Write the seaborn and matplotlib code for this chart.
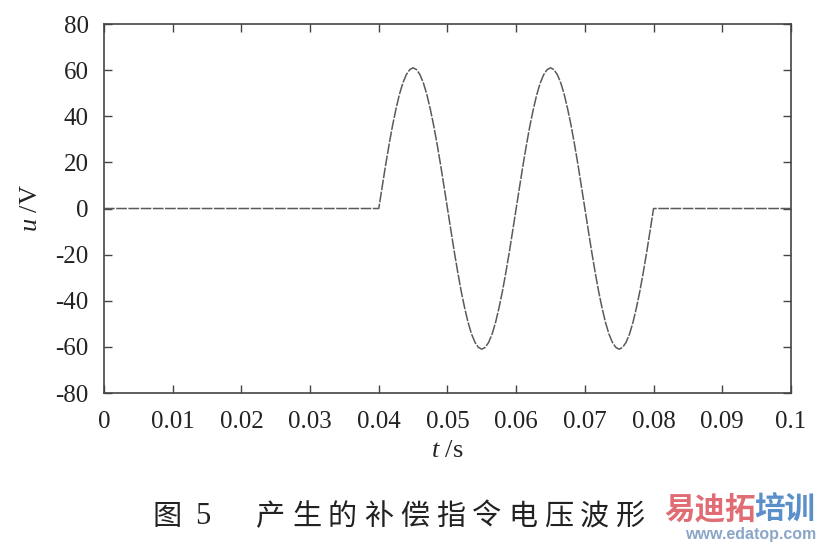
import numpy as np
import pandas as pd
import seaborn as sns
import matplotlib.pyplot as plt

t_flat_start = [0.0]
u_flat_start = [0.0]
t_wave_start = 0.04
t_wave_step = 0.0005
u_wave = [
    0.0, 9.5, 18.9, 27.7, 35.9, 43.1, 49.4, 54.4, 58.0, 60.2,
    61.0, 60.2, 58.0, 54.4, 49.4, 43.1, 35.9, 27.7, 18.9, 9.5,
    0.0, -9.5, -18.9, -27.7, -35.9, -43.1, -49.4, -54.4, -58.0, -60.2,
    -61.0, -60.2, -58.0, -54.4, -49.4, -43.1, -35.9, -27.7, -18.9, -9.5,
    0.0, 9.5, 18.9, 27.7, 35.9, 43.1, 49.4, 54.4, 58.0, 60.2,
    61.0, 60.2, 58.0, 54.4, 49.4, 43.1, 35.9, 27.7, 18.9, 9.5,
    0.0, -9.5, -18.9, -27.7, -35.9, -43.1, -49.4, -54.4, -58.0, -60.2,
    -61.0, -60.2, -58.0, -54.4, -49.4, -43.1, -35.9, -27.7, -18.9, -9.5,
    0.0,
]
t_flat_end = [0.1]
u_flat_end = [0.0]

x_ticks = [0, 0.01, 0.02, 0.03, 0.04, 0.05, 0.06, 0.07, 0.08, 0.09, 0.1]
x_ticklabels = ['0', '0.01', '0.02', '0.03', '0.04', '0.05', '0.06', '0.07', '0.08', '0.09', '0.1']
y_ticks = [80, 60, 40, 20, 0, -20, -40, -60, -80]
y_ticklabels = ['80', '60', '40', '20', '0', '-20', '-40', '-60', '-80']

t_wave = [t_wave_start + i * t_wave_step for i in range(len(u_wave))]
df = pd.DataFrame({
    't': t_flat_start + t_wave + t_flat_end,
    'u': u_flat_start + u_wave + u_flat_end,
})

sns.set_style('ticks')
plt.rcParams['font.family'] = ['Liberation Serif', 'DejaVu Serif']
plt.rcParams['mathtext.fontset'] = 'custom'
plt.rcParams['mathtext.it'] = 'Liberation Serif:italic'
plt.rcParams['mathtext.rm'] = 'Liberation Serif'

fig = plt.figure(figsize=(8.2, 5.43), dpi=100)
ax = fig.add_axes([0.1268, 0.2762, 0.8378, 0.6796])

sns.lineplot(data=df, x='t', y='u', ax=ax, color='#5a5a5a', linewidth=1.1,
             dashes=False, sort=False)
ax.lines[0].set_dashes([7, 1.0])

ax.set_xlim(0, 0.1)
ax.set_ylim(-80, 80)
ax.set_xticks(x_ticks)
ax.set_xticklabels(x_ticklabels)
ax.set_yticks(y_ticks)
ax.set_yticklabels(y_ticklabels)
ax.tick_params(direction='in', length=6, width=1, color='#444444',
               top=True, right=True, labelsize=18, labelcolor='#222222')
ax.tick_params(axis='x', pad=13)
ax.tick_params(axis='y', pad=11)
for s in ax.spines.values():
    s.set_visible(True)
    s.set_color('#444444')
    s.set_linewidth(1.2)

ax.set_xlabel(r'$t$ /s', fontsize=19, color='#222222', labelpad=5)
ax.set_ylabel(r'$u$ /V', fontsize=19, color='#222222', labelpad=10)

# caption
cap_font = ['Noto Sans CJK SC', 'DejaVu Sans']
fig.text(153 / 820, 1 - 517 / 543, '图', fontsize=21, family=cap_font,
         va='center', ha='left', color='#222222')
fig.text(195 / 820, 1 - 517 / 543, '5', fontsize=22, family=['Liberation Serif'],
         va='center', ha='left', color='#222222')
for i, ch in enumerate('产生的补偿指令电压波形'):
    fig.text((256 + 36 * i) / 820, 1 - 517 / 543, ch, fontsize=21,
             family=cap_font, va='center', ha='left', color='#222222')

# watermark
fig.text(664 / 820, 1 - 510 / 543, '易迪拓', fontsize=22, family=cap_font,
         fontweight='bold', color='#e06c74', va='center', ha='left')
fig.text(754 / 820, 1 - 510 / 543, '培训', fontsize=22, family=cap_font,
         fontweight='bold', color='#5b8fc9', va='center', ha='left')
fig.text(816 / 820, 1 - 534 / 543, 'www.edatop.com', fontsize=11.5,
         family=['Liberation Sans'], fontweight='bold', color='#8aa6c8',
         va='center', ha='right')

fig.savefig('out.png', dpi=100)
